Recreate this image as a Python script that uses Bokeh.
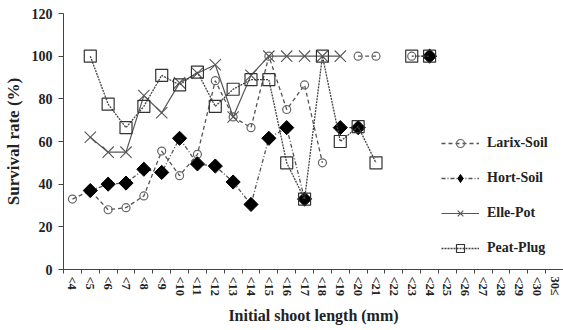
import numpy as np
from bokeh.plotting import figure
from bokeh.models import Range1d, FixedTicker, Legend, LegendItem
from bokeh.embed import file_html
from bokeh.resources import INLINE

nan = float("nan")

categories = ["<4", "<5", "<6", "<7", "<8", "<9", "<10", "<11", "<12", "<13",
              "<14", "<15", "<16", "<17", "<18", "<19", "<20", "<21", "<22",
              "<23", "<24", "<25", "<26", "<27", "<28", "<29", "<30", "30≤"]

larix_soil = [33, 37, 28, 29, 34.5, 55.5, 44, 54, 88.5, 71.5, 66.5, 100, 75, 86.5,
              50, nan, 100, 100, nan, 100] + [nan] * 8
hort_soil = [nan, 37, 40, 40.5, 47, 45.5, 61.5, 49.5, 48.5, 41, 30.5, 61.5, 66.5,
             33, nan, 66.5, 66.5, nan, nan, nan, 100] + [nan] * 7
elle_pot = [nan, 62, 55, 55, 81.5, 73.5, 87.5, 92, 96, 71.5, 91, 100, 100, 100,
            100, 100] + [nan] * 12
peat_plug = [nan, 100, 77.5, 66.5, 76.5, 91, 86.5, 92.5, 76.5, 84.5, 89, 89, 50,
             33, 100, 60, 67, 50, nan, 100, 100] + [nan] * 7

y_ticks = [0, 20, 40, 60, 80, 100, 120]

xs = list(range(len(categories)))
FONT = "Liberation Serif"

p = figure(width=563, height=330, output_backend="svg", toolbar_location=None,
           x_range=Range1d(-0.5, len(categories) - 0.5), y_range=Range1d(0, 120),
           min_border_left=60, min_border_right=0, min_border_top=13,
           min_border_bottom=61)
p.outline_line_color = None
p.xgrid.grid_line_color = None
p.ygrid.grid_line_color = None
p.background_fill_color = "white"

# Series
l1 = p.line(xs, larix_soil, line_color="#555555", line_width=1.3, line_dash="4 3")
m1 = p.scatter(xs, larix_soil, marker="circle", size=8, line_color="#666666",
               line_width=1.2, fill_alpha=0)
l2 = p.line(xs, hort_soil, line_color="#555555", line_width=1.3, line_dash="4 2 1 2")
m2 = p.scatter(xs, hort_soil, marker="square", angle=np.pi / 4, size=10,
               line_color="black", fill_color="black")
l3 = p.line(xs, elle_pot, line_color="#555555", line_width=1.2)
m3 = p.scatter(xs, elle_pot, marker="x", size=16, line_color="#555555", line_width=1.1)
l4 = p.line(xs, peat_plug, line_color="#444444", line_width=1.3, line_dash="2 1")
m4 = p.scatter(xs, peat_plug, marker="square", size=12, line_color="#333333",
               line_width=1.2, fill_alpha=0)

# legend-only proxy glyph (diamond), no data drawn
proxy_x = [nan]
proxy_y = [nan]
m2_leg = p.scatter(proxy_x, proxy_y, marker="diamond", size=10,
                   line_color="black", fill_color="black")

# Axes
xa = p.xaxis[0]
xa.ticker = FixedTicker(ticks=xs, minor_ticks=[i - 0.5 for i in range(len(categories) + 1)])
xa.major_label_overrides = {i: c for i, c in enumerate(categories)}
xa.major_label_orientation = "vertical"
xa.major_tick_line_color = None
xa.major_tick_out = 4
xa.major_tick_in = 0
xa.minor_tick_out = 4
xa.minor_tick_in = 0
xa.minor_tick_line_color = "#444444"
xa.axis_line_color = "#444444"
xa.major_label_standoff = 3
xa.major_label_text_font = FONT
xa.major_label_text_font_style = "bold"
xa.major_label_text_font_size = "12.5px"
xa.major_label_text_color = "#222222"
xa.axis_label = "Initial shoot length (mm)"
xa.axis_label_text_font = FONT
xa.axis_label_text_font_style = "bold"
xa.axis_label_text_font_size = "16px"
xa.axis_label_text_color = "#222222"
xa.axis_label_standoff = 8

ya = p.yaxis[0]
ya.ticker = FixedTicker(ticks=y_ticks)
ya.minor_tick_line_color = None
ya.major_tick_out = 5
ya.major_tick_in = 0
ya.major_tick_line_color = "#444444"
ya.axis_line_color = "#444444"
ya.major_label_standoff = 6
ya.major_label_text_font = FONT
ya.major_label_text_font_style = "bold"
ya.major_label_text_font_size = "14px"
ya.major_label_text_color = "#222222"
ya.axis_label = "Survival rate (%)"
ya.axis_label_text_font = FONT
ya.axis_label_text_font_style = "bold"
ya.axis_label_text_font_size = "17px"
ya.axis_label_text_color = "#222222"
ya.axis_label_standoff = 6

legend = Legend(items=[
    LegendItem(label="Larix-Soil", renderers=[l1, m1]),
    LegendItem(label="Hort-Soil", renderers=[l2, m2_leg]),
    LegendItem(label="Elle-Pot", renderers=[l3, m3]),
    LegendItem(label="Peat-Plug", renderers=[l4, m4]),
], location=(378, 11), padding=0, margin=0, border_line_color=None,
    background_fill_alpha=0, glyph_width=38, glyph_height=20, label_height=20,
    spacing=15, label_standoff=8, label_text_font=FONT,
    label_text_font_style="bold", label_text_font_size="14px",
    label_text_color="#222222")
p.add_layout(legend)

open("out.html", "w").write(file_html(p, INLINE))
